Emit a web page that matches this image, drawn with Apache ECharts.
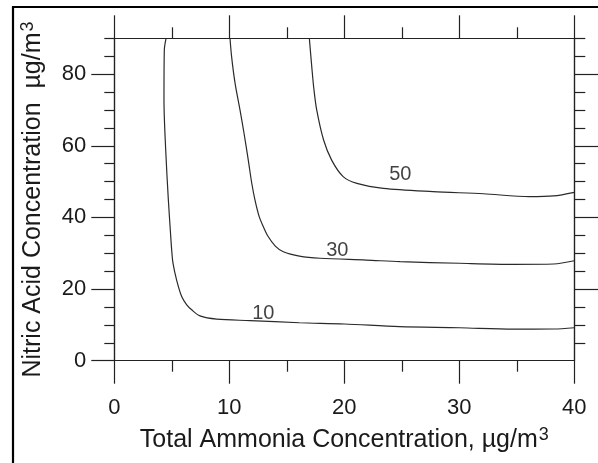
<!DOCTYPE html>
<html>
<head>
<meta charset="utf-8">
<script src="https://cdn.jsdelivr.net/npm/echarts@6/dist/echarts.min.js"></script>
<style>html,body{margin:0;padding:0;background:#fff;}#c{width:598px;height:463px;}</style>
</head>
<body>
<div id="c"></div>
<script>
// ---- data ----
const xTicksMajor = [0, 10, 20, 30, 40];
const yLabelValues = [0, 20, 40, 60, 80];
const yMinorLeft = [5, 10, 15, 25, 30, 35, 45, 50, 55, 65, 70, 75, 85, 90];
const yMajorRight = [20, 40, 60, 80];
const yMinorRight = [5, 10, 15, 25, 30, 35, 45, 50, 55, 65, 70, 75, 85, 90];

const contour10 = [[4.5,90],[4.35,86.8],[4.32,72.8],[4.47,58.8],[4.7,44.9],[4.88,36],[4.99,30.9],[5.1,27.3],[5.42,22.5],[5.86,17.9],[6.3,15.6],[6.73,14.2],[7.45,12.5],[8.9,11.6],[11.8,11.2],[16.1,10.6],[20,10.25],[24.8,9.5],[30,9.2],[34.7,8.8],[38.2,8.85],[40,9.2]];
const contour30 = [[10.06,90],[10.2,84.9],[10.5,77.5],[10.93,70],[11.28,63.5],[11.65,56],[11.95,49.6],[12.23,44.9],[12.6,40.2],[12.96,37.4],[13.35,34.8],[14.0,32],[14.7,30.4],[16.1,29.2],[17.9,28.6],[21.9,28.1],[24.85,27.65],[30,27.2],[34.7,26.9],[38.2,27.0],[40,27.9]];
const contour50 = [[16.96,90],[17.17,82.1],[17.35,76],[17.6,70],[18.2,61.6],[18.9,56],[19.9,51.4],[21.1,49.5],[23.4,48.1],[27.7,47.2],[32.1,46.6],[36.1,45.8],[38.2,46],[40,47]];
const contourLabels = [[12.96,13.2,'10'],[19.39,30.9,'30'],[24.87,51.9,'50']];

const xTitle = 'Total Ammonia Concentration, µg/m';
const yTitle = 'Nitric Acid Concentration  µg/m';

const FONT = 'Liberation Sans, Arial, Helvetica, sans-serif';
const INK = '#1a1a1a';
const AX = { lineStyle: { color: '#222', width: 1.2 } };

const chart = echarts.init(document.getElementById('c'), null, { renderer: 'canvas' });

function lineSeries(data) {
  return {
    type: 'line', data: data, xAxisIndex: 0, yAxisIndex: 0,
    smooth: 0.3, showSymbol: false, symbol: 'none', silent: true,
    lineStyle: { color: '#2a2a2a', width: 1.2 }
  };
}

const supRich = {
  sup: { fontSize: 18, fontFamily: FONT, color: INK, verticalAlign: 'top', lineHeight: 17, padding: [0, 0, 0, 1] }
};

chart.setOption({
  animation: false,
  backgroundColor: '#fff',
  grid: { left: 114.3, right: 23.7, top: 38.3, bottom: 102.3, containLabel: false },
  graphic: [{
    type: 'rect', left: 10.5, top: 4.5, silent: true,
    shape: { width: 700, height: 600 },
    style: { fill: 'none', stroke: '#000', lineWidth: 2.2 }
  }],
  xAxis: [{
    type: 'value', position: 'bottom', min: 0, max: 40, interval: 10,
    axisLine: { show: true, onZero: false, ...AX },
    axisTick: { show: true, inside: false, length: 23, lineStyle: { color: '#222', width: 1.2 } },
    minorTick: { show: true, splitNumber: 2, length: 11, lineStyle: { color: '#222', width: 1.2 } },
    splitLine: { show: false }, minorSplitLine: { show: false },
    axisLabel: { margin: 36, fontSize: 22, fontFamily: FONT, color: INK },
    name: xTitle + '{sup|3}', nameLocation: 'middle', nameGap: 65,
    nameTextStyle: { fontSize: 25, fontFamily: FONT, color: INK, lineHeight: 28, rich: supRich }
  }, {
    type: 'value', position: 'top', min: 0, max: 40, interval: 10,
    axisLine: { show: true, onZero: false, ...AX },
    axisTick: { show: true, inside: false, length: 23, lineStyle: { color: '#222', width: 1.2 } },
    minorTick: { show: true, splitNumber: 2, length: 11, lineStyle: { color: '#222', width: 1.2 } },
    splitLine: { show: false }, axisLabel: { show: false }
  }],
  yAxis: [{
    type: 'value', position: 'left', min: 0, max: 90,
    axisLine: { show: true, onZero: false, ...AX },
    axisTick: { show: true, inside: false, length: 23, customValues: yLabelValues, lineStyle: { color: '#222', width: 1.2 } },
    splitLine: { show: false },
    axisLabel: { customValues: yLabelValues, margin: 28, fontSize: 22, fontFamily: FONT, color: INK },
    name: yTitle + '{sup|3}', nameLocation: 'middle', nameGap: 67, nameRotate: 90,
    nameTextStyle: { fontSize: 25, fontFamily: FONT, color: INK, lineHeight: 28, rich: supRich }
  }, {
    type: 'value', position: 'left', min: 0, max: 90,
    axisLine: { show: true, onZero: false, ...AX },
    axisTick: { show: true, inside: false, length: 10, customValues: yMinorLeft, lineStyle: { color: '#222', width: 1.2 } },
    splitLine: { show: false }, axisLabel: { show: false, customValues: yMinorLeft }
  }, {
    type: 'value', position: 'right', min: 0, max: 90,
    axisLine: { show: true, onZero: false, ...AX },
    axisTick: { show: true, inside: false, length: 24, customValues: yMajorRight, lineStyle: { color: '#222', width: 1.2 } },
    splitLine: { show: false }, axisLabel: { show: false, customValues: yMajorRight }
  }, {
    type: 'value', position: 'right', min: 0, max: 90,
    axisLine: { show: true, onZero: false, ...AX },
    axisTick: { show: true, inside: false, length: 11, customValues: yMinorRight, lineStyle: { color: '#222', width: 1.2 } },
    splitLine: { show: false }, axisLabel: { show: false, customValues: yMinorRight }
  }],
  series: [
    lineSeries(contour10),
    lineSeries(contour30),
    lineSeries(contour50),
    {
      type: 'scatter', data: contourLabels, xAxisIndex: 0, yAxisIndex: 0,
      symbolSize: 0, silent: true, itemStyle: { color: '#111' },
      label: {
        show: true, position: 'inside', fontSize: 20, fontFamily: FONT, color: '#111',
        formatter: p => p.value[2]
      }
    }
  ]
});
</script>
</body>
</html>
